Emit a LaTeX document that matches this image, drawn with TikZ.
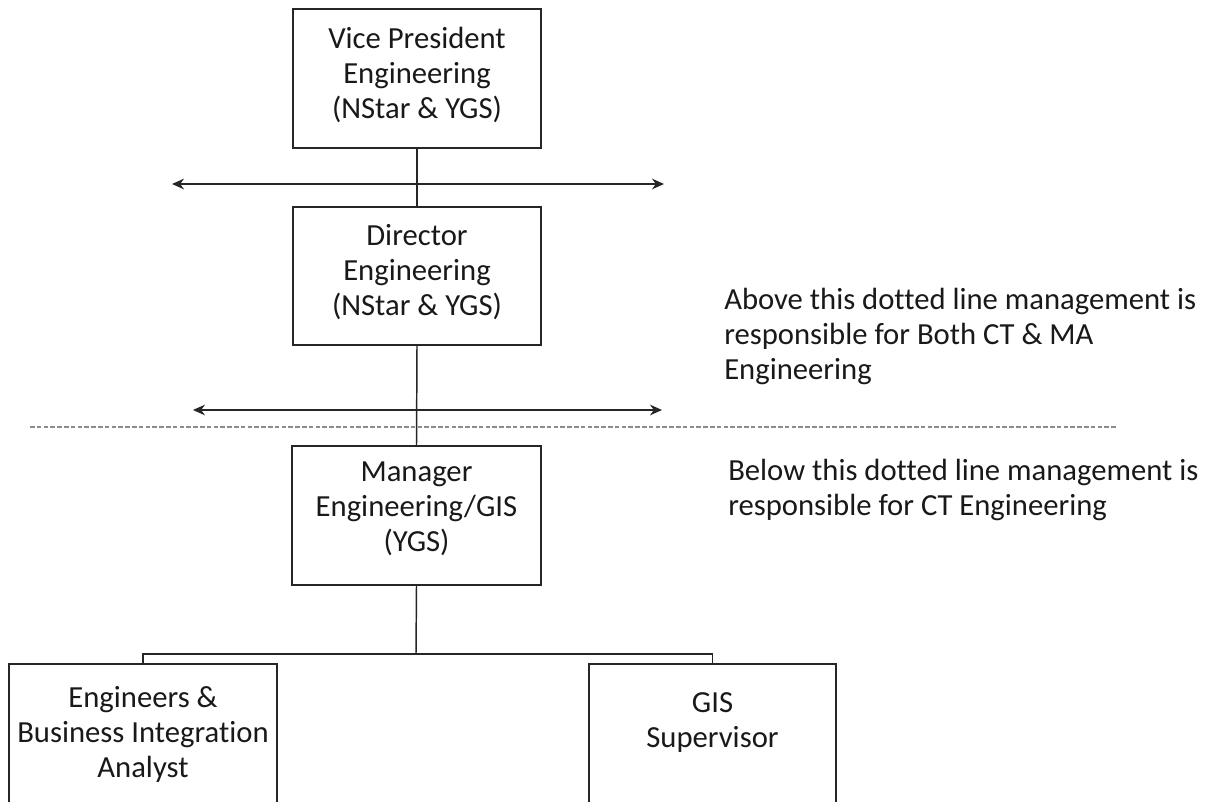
\documentclass[tikz,border=0pt]{standalone}
\usepackage{fontspec}
\setmainfont{Carlito}[RawFeature={-liga}]
\usetikzlibrary{arrows.meta}
\begin{document}
\begin{tikzpicture}[x=0.75pt,y=-0.75pt,
  box/.style={draw=black!85, line width=1.1pt, inner sep=0pt, fill=white},
  txt/.style={align=center, font=\fontsize{23pt}{26.25pt}\selectfont, text=black!90, inner sep=0pt},
  note/.style={align=left, anchor=north west, font=\fontsize{23pt}{26.25pt}\selectfont, text=black!90, inner sep=0pt},
  conn/.style={draw=black!85, line width=1.1pt},
  arr/.style={draw=black!85, line width=1.1pt, {Stealth[length=9pt,width=8pt]}-{Stealth[length=9pt,width=8pt]}},
  divider/.style={draw=black!45, line width=1.6pt, dash pattern=on 3.5pt off 1.6pt}]
\clip (0,0) rectangle (1208,802);
\fill[white] (0,0) rectangle (1208,802);
% dashed divider
\coordinate (dL) at (30,427);
\coordinate (dR) at (1117,427);
\draw[divider] (dL) -- (dR);
% horizontal arrows
\coordinate (a1L) at (172,184);
\coordinate (a1R) at (664,184);
\coordinate (a2L) at (193,410);
\coordinate (a2R) at (662,410);
\draw[arr] (a1L) -- (a1R);
\draw[arr] (a2L) -- (a2R);
% boxes
\node[box, minimum width=186pt, minimum height=104pt] (vp) at (417,78.5) {};
\node[box, minimum width=186pt, minimum height=103.5pt] (dir) at (417,276) {};
\node[box, minimum width=186.75pt, minimum height=104.25pt] (mgr) at (416.5,515.5) {};
\node[box, minimum width=201pt, minimum height=150pt] (eng) at (143,764) {};
\node[box, minimum width=185.25pt, minimum height=150pt] (gis) at (712.5,764) {};
% connectors
\draw[conn] (vp.south) -- (dir.north);
\draw[conn] (dir.south) -- (mgr.north);
\coordinate (bj) at (416,654);
\draw[conn] (mgr.south) -- (bj);
\draw[conn] (bj) -- (143,654) -- (eng.north);
\draw[conn] (bj) -- (712.5,654) -- (gis.north);
% texts
\node[txt] (vpt) at (417,75) {Vice President\\Engineering\\(NStar \& YGS)};
\node[txt] (dirt) at (417,272) {Director\\Engineering\\(NStar \& YGS)};
\node[txt] (mgrt) at (416.5,509) {Manager\\Engineering/GIS\\(YGS)};
\node[txt] (engt) at (143,734) {Engineers \&\\Business Integration\\Analyst};
\node[txt] (gist) at (712.5,723) {GIS\\Supervisor};
\node[note] (above) at (724,288) {Above this dotted line management is\\responsible for Both CT \& MA\\Engineering};
\node[note] (below) at (728,459) {Below this dotted line management is\\responsible for CT Engineering};
\end{tikzpicture}
\end{document}
